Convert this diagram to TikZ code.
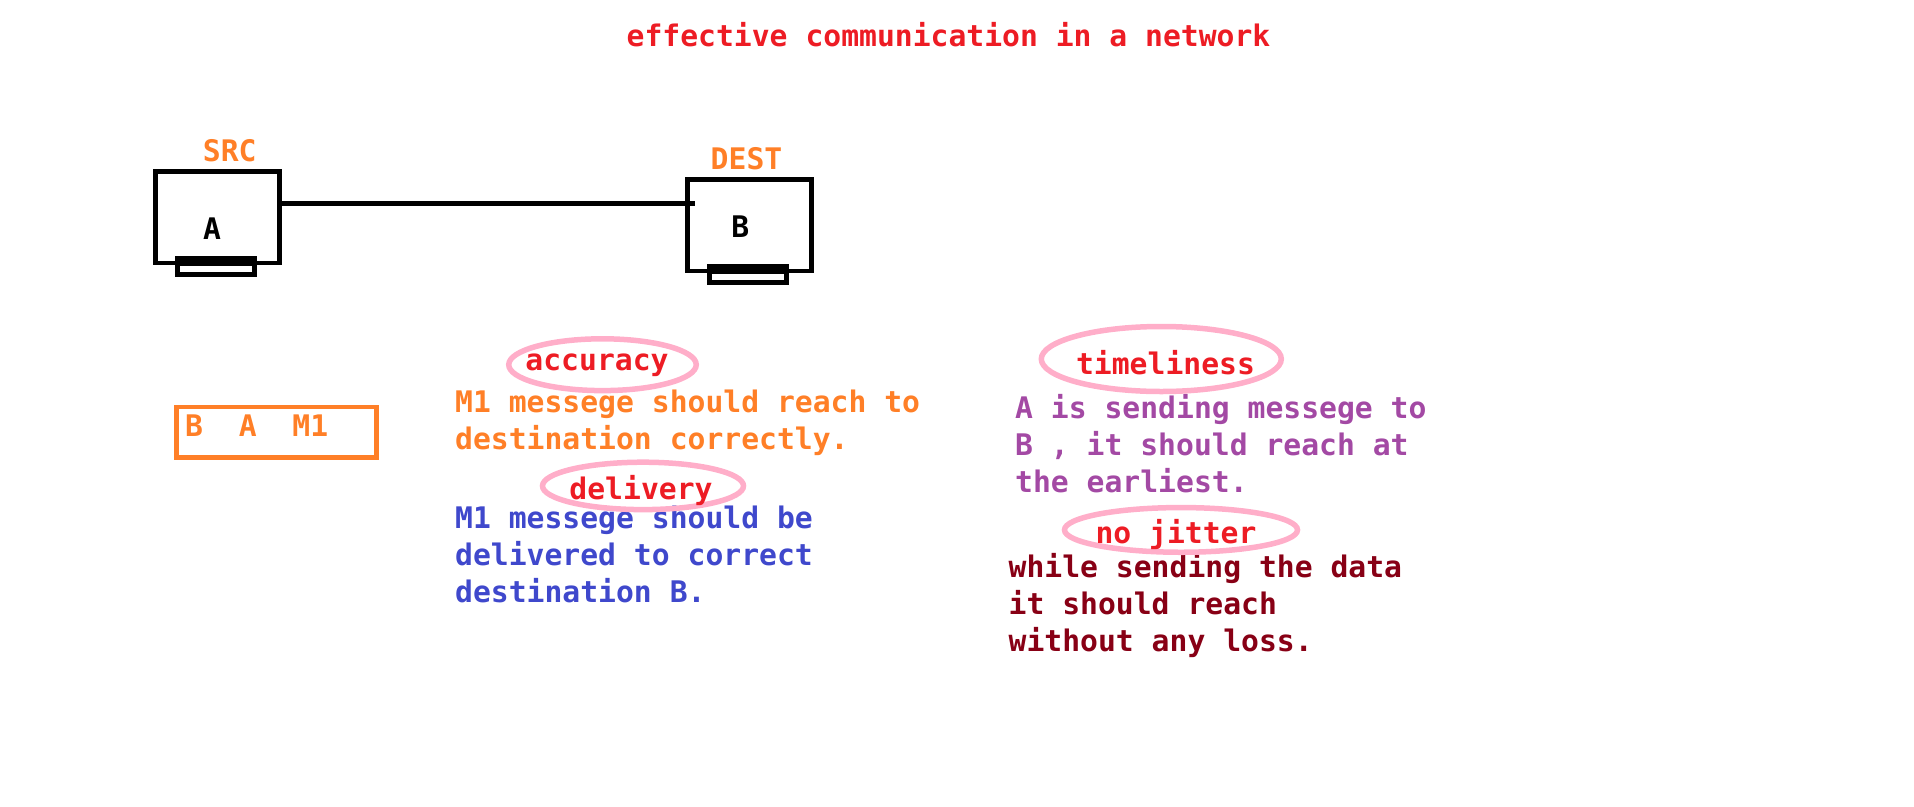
\documentclass[tikz,border=0pt]{standalone}
\usepackage{fontspec}
\newfontfamily\paintfont{DejaVu Sans Mono}
\usetikzlibrary{shapes.geometric}
\definecolor{paintred}{HTML}{ED1C24}
\definecolor{paintorange}{HTML}{FF7F27}
\definecolor{paintblue}{HTML}{3F48CC}
\definecolor{paintpurple}{HTML}{A349A4}
\definecolor{paintmaroon}{HTML}{880015}
\definecolor{paintpink}{HTML}{FFAEC9}
\tikzset{
  txt/.style={inner sep=0pt,font=\paintfont\bfseries\fontsize{29.7}{37}\selectfont},
  para/.style={txt,align=left,anchor=north west},
  tag/.style={txt,color=paintred,anchor=base},
  ring/.style={draw=paintpink,line width=5.5pt,ellipse,inner sep=0pt},
  host/.style={draw,line width=4.6pt,inner sep=0pt,minimum width=124pt,minimum height=91.5pt},
  port/.style={draw,line width=5pt,inner sep=0pt,minimum width=77pt,minimum height=15.8pt,
    path picture={\fill (path picture bounding box.north west) rectangle ([yshift=-7.5pt]path picture bounding box.north east);}},
}
\begin{document}
\begin{tikzpicture}[x=1pt,y=-1pt]
\useasboundingbox (0,0) rectangle (1914,806);
\node[txt,anchor=base west,color=paintred] (title) at (626.5,46.7) {effective communication in a network};
\node[host] (srcbox) at (217.5,217.3) {};
\node[host] (destbox) at (749.5,225.3) {};
\node[port] (srcport) at (215.9,266.4) {};
\node[port] (destport) at (747.8,274.5) {};
\node[txt,anchor=base] (a) at (212,239) {A};
\node[txt,anchor=base] (b) at (740.3,237) {B};
\node[txt,anchor=base,color=paintorange] (src) at (229.8,161) {SRC};
\node[txt,anchor=base,color=paintorange] (dest) at (746.5,169) {DEST};
\coordinate (linkend) at (695,203.5);
\draw[line width=4.3pt] (srcbox.east |- linkend) -- (linkend);
\node[draw=paintorange,line width=4.5pt,minimum width=200pt,minimum height=50.5pt,inner sep=0pt] (msgbox) at (276.25,432.2) {};
\node[txt,anchor=base west,color=paintorange] (msg) at (185,436) {B~~A~~M1};
\node[para,color=paintorange] (accnote) at (455,390.1) {M1 messege should reach to\\destination correctly.};
\node[para,color=paintblue] (delnote) at (455,505.4) {M1 messege should be\\delivered to correct\\destination B.};
\node[para,color=paintpurple] (timenote) at (1015,394.4) {A is sending messege to\\B , it should reach at\\the earliest.};
\node[para,color=paintmaroon] (jitnote) at (1008.5,553.1) {while sending the data\\it should reach\\without any loss.};
\node[ring,minimum width=187.5pt,minimum height=51.8pt] (accring) at (602.5,364.7) {};
\node[ring,minimum width=201pt,minimum height=47.4pt] (delring) at (643,485.9) {};
\node[ring,minimum width=240pt,minimum height=65pt] (timering) at (1161.3,359) {};
\node[ring,minimum width=233pt,minimum height=44.7pt] (jitring) at (1181,529.9) {};
\node[tag] (acc) at (597,370.3) {accuracy};
\node[tag] (del) at (641,499.7) {delivery};
\node[tag] (time) at (1165.5,374) {timeliness};
\node[tag] (jit) at (1176,543) {no jitter};
\end{tikzpicture}
\end{document}
